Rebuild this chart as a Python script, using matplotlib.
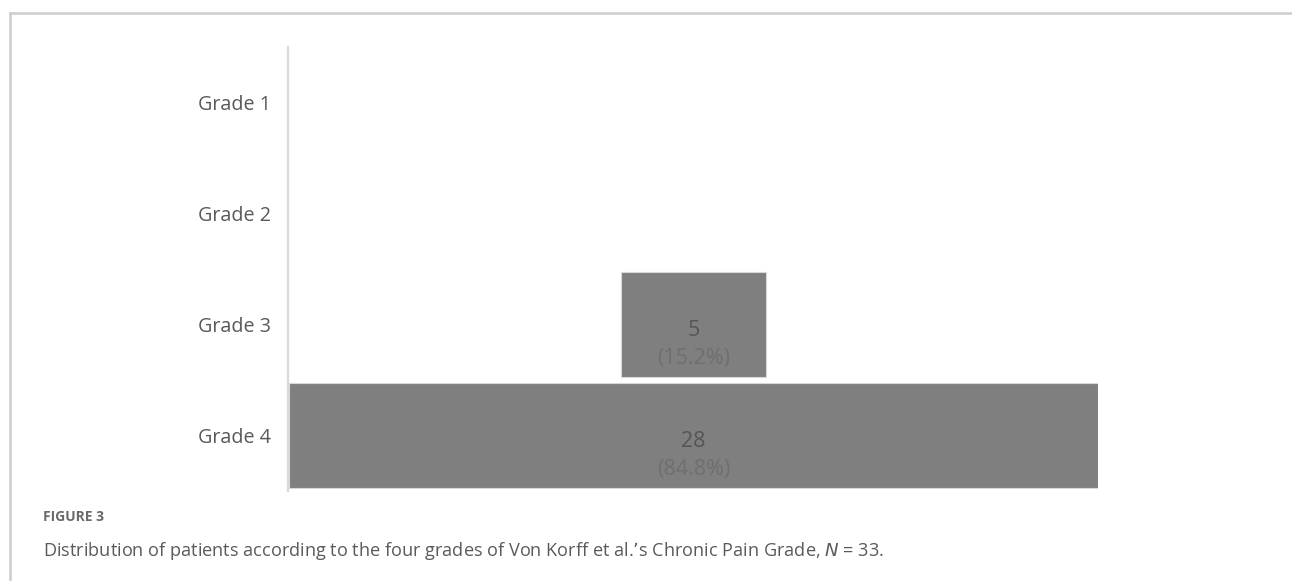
import matplotlib
matplotlib.use("Agg")
import matplotlib.pyplot as plt
from matplotlib.lines import Line2D

plt.rcParams["font.family"] = ["Open Sans", "DejaVu Sans"]

grades   = ["Grade 1", "Grade 2", "Grade 3", "Grade 4"]
patients = [0, 0, 5, 28]
shares   = [0.0, 0.0, 15.2, 84.8]

BAR_COLOR  = "#7f7f7f"
TEXT_GREY  = "#595959"
FRAME_GREY = "#cccccc"

fig = plt.figure(figsize=(12.92, 5.81), dpi=100)
fig.patch.set_facecolor("white")

# funnel-style chart: bars centred on zero
ax = fig.add_axes([289 / 1292, 1 - 491 / 581, (1098 - 289) / 1292, (491 - 47) / 581])
half = max(patients) / 2
ax.set_xlim(-half, half)
ax.set_ylim(len(grades) - 0.5, -0.5)

ypos = list(range(len(grades)))
edge_w = [0.8 if p > 0 else 0 for p in patients]
ax.barh(ypos, patients, left=[-p / 2 for p in patients], height=0.94,
        color=BAR_COLOR, edgecolor="#d9d9d9", linewidth=edge_w)

for y, n, pct in zip(ypos, patients, shares):
    if n == 0:
        continue
    ax.text(0, y + 0.055, f"{n}", ha="center", va="center",
            fontsize=15.5, color="#555555")
    ax.text(0, y + 0.31, f"({pct:.1f}%)", ha="center", va="center",
            fontsize=15.5, color="#6f6f6f")

ax.set_yticks(ypos)
ax.set_yticklabels(grades)
ax.tick_params(axis="y", length=0, pad=12, labelsize=14.2, labelcolor=TEXT_GREY)
ax.set_xticks([])
for side in ["top", "right", "bottom"]:
    ax.spines[side].set_visible(False)
ax.spines["left"].set_color("#d9d9d9")
ax.spines["left"].set_linewidth(1.6)
ax.spines["left"].set_position(("data", -half - 0.03))

# outer frame: top and left rules only
fig.add_artist(Line2D([10 / 1292, 1.0], [1 - 13 / 581, 1 - 13 / 581],
                      transform=fig.transFigure, color=FRAME_GREY, linewidth=1.8))
fig.add_artist(Line2D([10 / 1292, 10 / 1292], [0.0, 1 - 13 / 581],
                      transform=fig.transFigure, color=FRAME_GREY, linewidth=1.8))

fig.text(43 / 1292, 1 - 517 / 581, "FIGURE 3", ha="left", va="center",
         fontsize=10, fontweight="bold", color="#6a6a6a")
fig.text(43 / 1292, 1 - 551 / 581,
         "Distribution of patients according to the four grades of Von Korff et al.\u2019s "
         "Chronic Pain Grade, $\\it{N}$ = 33.",
         ha="left", va="center", fontsize=13.1, color="#5a5a5a")

fig.savefig("out.png", dpi=100, facecolor="white")
